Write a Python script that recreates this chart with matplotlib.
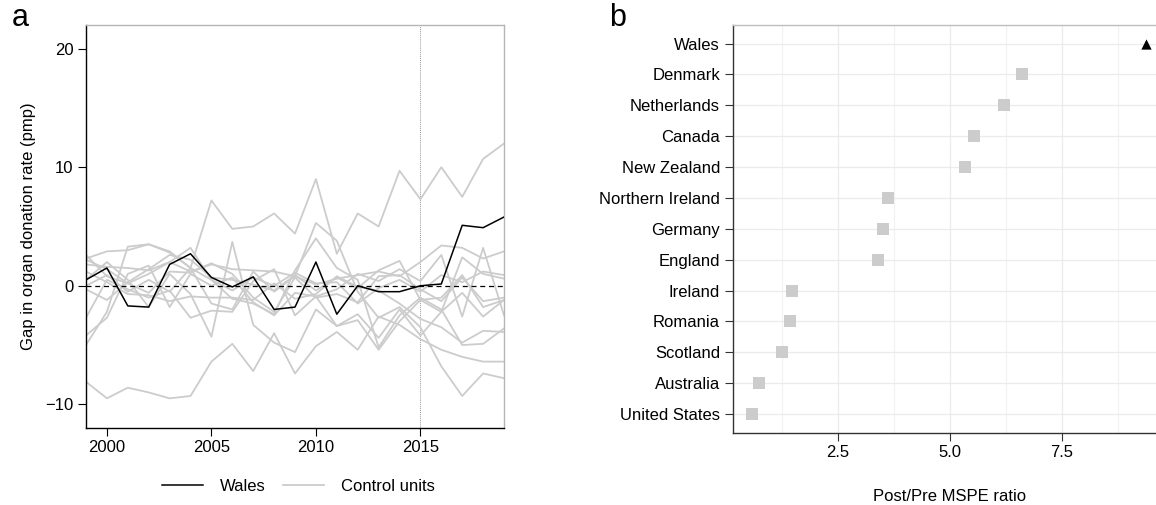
import numpy as np
import matplotlib
matplotlib.use("Agg")
import matplotlib.pyplot as plt
from matplotlib.ticker import MultipleLocator, FormatStrFormatter

plt.rcParams['font.family'] = ['Liberation Sans', 'DejaVu Sans']

#------------------- data, panel a -------------------
years = np.arange(1999, 2020)
wales_gap = [0.5, 1.5, -1.7, -1.8, 1.8, 2.7, 0.7, -0.1, 0.75, -2.0, -1.8,
             2.0, -2.4, 0.0, -0.5, -0.5, 0.0, 0.15, 5.1, 4.9, 5.8]
control_gaps = [
    [2.3, 2.9, 3.0, 3.5, 2.9, 1.5, 7.2, 4.8, 5.0, 6.1, 4.4, 9.0, 2.7, 6.1, 5.0, 9.7, 7.3, 10.0, 7.5, 10.7, 12.0],
    [-8.1, -9.5, -8.6, -9.0, -9.5, -9.3, -6.4, -4.9, -7.2, -4.0, -7.4, -5.1, -3.9, -5.4, -2.6, -3.3, -4.5, -5.4, -6.0, -6.4, -6.4],
    [-5.0, -2.2, 3.3, 3.5, 2.8, 1.5, -1.5, -2.0, 1.2, -0.5, 0.8, 5.3, 3.8, -0.5, -2.7, -1.8, -3.5, -6.8, -9.3, -7.4, -7.8],
    [2.6, 0.8, 0.2, 1.0, 2.0, 3.2, 0.5, -1.1, -1.5, -2.4, 1.3, 4.0, 1.5, 0.5, -5.2, -2.5, -1.0, -2.0, -5.0, -4.9, -3.6],
    [0.5, 2.0, 0.5, -1.8, 1.0, -0.7, -4.3, 3.7, -3.3, -4.8, -5.6, -2.0, -3.4, -2.9, -5.4, -3.0, -1.2, -1.0, 0.9, -1.8, -1.2],
    [1.8, 1.6, 1.5, 1.3, 2.0, 1.2, 1.8, 1.4, 1.3, 1.2, 0.8, 0.1, 0.6, 0.9, 1.2, 0.8, 2.0, 3.4, 3.2, 2.3, 2.9],
    [-0.3, -1.2, 0.3, 1.4, 2.6, 2.2, 0.7, 0.5, 0.1, -0.4, 0.9, -0.4, 0.7, -0.2, 1.3, 2.1, -1.2, -2.2, 2.4, 1.0, 0.6],
    [-2.7, 0.5, -0.3, -1.0, -0.4, -2.7, -2.1, -2.2, 0.4, 1.4, -2.5, -0.9, -3.4, -2.4, -4.4, -2.0, -4.2, -2.2, -0.6, -2.6, -1.2],
    [-4.2, -2.7, 1.0, 1.7, -1.8, 1.0, 0.0, 0.7, -1.4, -2.5, -0.6, -0.9, -0.3, 1.0, 0.4, 1.4, 0.4, 2.6, -2.6, 3.2, -2.5],
    [1.2, 0.3, -0.7, -0.8, -1.3, -0.9, -1.0, -1.0, -1.2, 0.2, -1.1, -0.7, 0.8, -0.1, -0.4, -1.5, -2.8, -3.5, -4.8, -3.8, -3.9],
    [0.0, 0.9, -0.5, 0.5, -0.5, 1.5, 0.5, -0.4, 0.7, 0.0, 1.1, 0.2, 0.3, -1.5, -0.2, 0.5, -0.5, 0.9, 0.3, 1.2, 0.9],
    [2.2, 1.4, 0.2, -0.6, 1.2, 1.1, 1.9, 1.0, -1.0, -2.2, 0.7, -1.0, -0.7, -1.4, 0.8, 0.9, -0.3, -1.3, 0.7, -1.3, -1.0],
]
treatment_year = 2015

#------------------- data, panel b -------------------
countries = ["Wales", "Denmark", "Netherlands", "Canada", "New Zealand",
             "Northern Ireland", "Germany", "England", "Ireland", "Romania",
             "Scotland", "Australia", "United States"]
mspe_ratio = [9.38, 6.61, 6.20, 5.53, 5.35, 3.63, 3.51, 3.40, 1.47, 1.44,
              1.26, 0.73, 0.59]
treated = "Wales"

GREY = "#cccccc"
FS = 12

fig = plt.figure(figsize=(11.56, 5.05), dpi=100)

#------------------- panel a -------------------
ax = fig.add_axes([0.0744, 0.1525, 0.3616, 0.798])
for c in control_gaps:
    ax.plot(years, c, color=GREY, lw=1.3, zorder=1)
ax.plot([], [], color=GREY, lw=1.3, label="Control units")
ax.plot(years, wales_gap, color="black", lw=1.1, zorder=3, label="Wales")
ax.axhline(0, color="black", lw=0.9, ls=(0, (4, 3)), zorder=2)
ax.axvline(treatment_year, color="#999999", lw=0.7, ls=(0, (1, 1)), zorder=0)

ax.set_xlim(1999, 2019)
ax.set_ylim(-12, 22)
ax.set_xticks([2000, 2005, 2010, 2015])
ax.set_yticks([-10, 0, 10, 20])
ax.set_yticklabels(["\u221210", "0", "10", "20"])
ax.tick_params(labelsize=FS, length=6, width=0.8, color="black", pad=3)
ax.set_ylabel("Gap in organ donation rate (pmp)", fontsize=FS, labelpad=7)
for s in ["left", "bottom"]:
    ax.spines[s].set_color("black")
    ax.spines[s].set_linewidth(1.0)
for s in ["top", "right"]:
    ax.spines[s].set_color("#b5b5b5")
    ax.spines[s].set_linewidth(1.0)

h, l = ax.get_legend_handles_labels()
fig.legend(h[::-1], l[::-1], loc="center", bbox_to_anchor=(0.258, 0.036),
           ncol=2, frameon=False, fontsize=FS, handlelength=2.5,
           handletextpad=1.0, columnspacing=1.0)

fig.text(0.010, 0.935, "a", fontsize=22, va="bottom", ha="left")

#------------------- panel b -------------------
bx = fig.add_axes([0.6337, 0.1432, 0.3758, 0.8073])
ypos = np.arange(len(countries))[::-1]
for y, name, v in zip(ypos, countries, mspe_ratio):
    if name == treated:
        bx.scatter(v, y, marker="^", s=55, color="black", lw=0, zorder=3)
    else:
        bx.scatter(v, y, marker="s", s=70, color=GREY, lw=0, zorder=3)

bx.set_xlim(0.15, 9.85)
bx.set_ylim(-0.6, len(countries) - 0.4)
bx.set_yticks(ypos)
bx.set_yticklabels(countries)
bx.xaxis.set_major_locator(MultipleLocator(2.5))
bx.xaxis.set_minor_locator(MultipleLocator(1.25))
bx.xaxis.set_major_formatter(FormatStrFormatter("%.1f"))
bx.tick_params(axis="x", which="minor", length=0)
bx.tick_params(labelsize=FS, length=6, width=0.8, color="#333333", pad=3)
bx.grid(True, which="major", color="#ebebeb", lw=0.9)
bx.grid(True, which="minor", axis="x", color="#f2f2f2", lw=0.9)
bx.set_axisbelow(True)
bx.set_xlabel("Post/Pre MSPE ratio", fontsize=FS, labelpad=21)
for s in ["left", "bottom"]:
    bx.spines[s].set_color("#333333")
    bx.spines[s].set_linewidth(1.0)
for s in ["top", "right"]:
    bx.spines[s].set_color("#bdbdbd")
    bx.spines[s].set_linewidth(1.0)

fig.text(0.527, 0.935, "b", fontsize=22, va="bottom", ha="left")

fig.savefig("out.png", dpi=100)
